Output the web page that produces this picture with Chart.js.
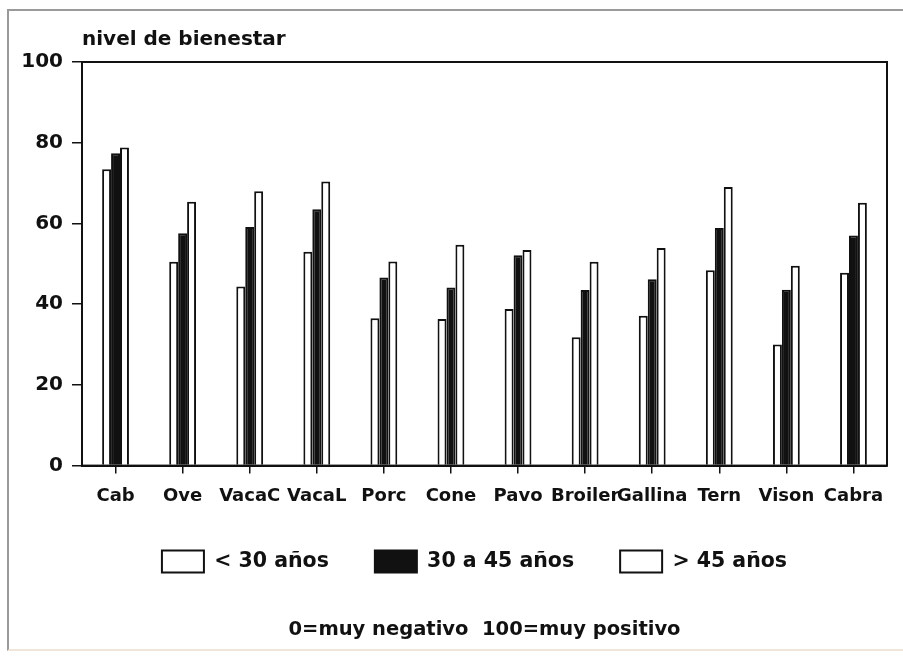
<!DOCTYPE html>
<html>
<head>
<meta charset="utf-8">
<script src="https://cdn.jsdelivr.net/npm/chart.js@4.4.1/dist/chart.umd.min.js"></script>
<style>
  html, body { margin: 0; padding: 0; background: #fff; }
  #wrap { position: relative; width: 903px; height: 656px; }
  #marco {
    position: absolute; left: 7px; top: 9px; right: -4px; bottom: 5px;
    border-top: 2px solid #9a9a9a; border-left: 2px solid #9a9a9a;
    border-bottom: 2px solid #efe6d9; pointer-events: none;
  }
</style>
</head>
<body>
<div id="wrap">
  <canvas id="grafico" width="903" height="656"></canvas>
  <div id="marco"></div>
</div>
<script>
// Especies evaluadas
const especies = ['Cab', 'Ove', 'VacaC', 'VacaL', 'Porc', 'Cone', 'Pavo', 'Broiler', 'Gallina', 'Tern', 'Vison', 'Cabra'];

// Nivel de bienestar por grupo de edad (0 = muy negativo, 100 = muy positivo)
const menos30 = [73.4, 50.5, 44.4, 53.0, 36.5, 36.3, 38.8, 31.8, 37.1, 48.4, 30.0, 47.8];
const de30a45 = [77.4, 57.6, 59.1, 63.5, 46.6, 44.1, 52.1, 43.5, 46.2, 58.9, 43.6, 57.0];
const mas45   = [78.8, 65.4, 68.0, 70.4, 50.6, 54.7, 53.4, 50.5, 53.9, 69.0, 49.5, 65.1];

const nombresSeries = ['< 30 años', '30 a 45 años', '> 45 años'];
const ticksY = [0, 20, 40, 60, 80, 100];

const fuente = 'DejaVu Sans';
const negro = '#111111';

// Marco del área del gráfico (arriba y derecha)
const marcoArea = {
    id: 'marcoArea',
    afterDatasetsDraw(chart) {
        const { ctx, chartArea } = chart;
        ctx.save();
        ctx.strokeStyle = negro;
        ctx.lineWidth = 2;
        ctx.strokeRect(chartArea.left, chartArea.top, chartArea.right - chartArea.left, chartArea.bottom - chartArea.top);
        ctx.restore();
    },
    afterLayout(chart) {
        // la leyenda del original queda un poco a la izquierda del centro
        chart.legend.left -= 10;
        chart.legend.right -= 10;
    }
};

const ctx = document.getElementById('grafico').getContext('2d');
new Chart(ctx, {
    type: 'bar',
    data: {
        labels: especies,
        datasets: [
            { label: nombresSeries[0], data: menos30, backgroundColor: '#ffffff' },
            { label: nombresSeries[1], data: de30a45, backgroundColor: negro },
            { label: nombresSeries[2], data: mas45, backgroundColor: '#ffffff' }
        ]
    },
    options: {
        responsive: false,
        animation: false,
        events: [],
        layout: { padding: { left: 0, right: 16, top: 0, bottom: 0 } },
        datasets: {
            bar: {
                borderColor: negro,
                borderWidth: 2,
                barPercentage: 1,
                categoryPercentage: 0.4
            }
        },
        plugins: {
            tooltip: { enabled: false },
            title: {
                display: true,
                text: 'nivel de bienestar',
                align: 'start',
                fullSize: false,
                color: negro,
                font: { family: fuente, size: 20, weight: 'bold' },
                padding: { top: 28, bottom: 10 }
            },
            legend: {
                position: 'bottom',
                fullSize: false,
                labels: {
                    color: negro,
                    font: { family: fuente, size: 20.5, weight: 'bold' },
                    boxWidth: 42,
                    boxHeight: 22,
                    padding: 46
                }
            },
            subtitle: {
                display: true,
                position: 'bottom',
                fullSize: false,
                text: '0=muy negativo  100=muy positivo',
                color: negro,
                font: { family: fuente, size: 19.5, weight: 'bold' },
                padding: { top: 36, bottom: 14 }
            }
        },
        scales: {
            x: {
                grid: { display: true, drawOnChartArea: false, offset: false, tickLength: 8, color: negro, lineWidth: 1.5 },
                border: { display: true, color: negro, width: 2 },
                ticks: {
                    color: negro,
                    font: { family: fuente, size: 18, weight: 'bold' },
                    autoSkip: false,
                    maxRotation: 0,
                    minRotation: 0,
                    padding: 12
                },
                afterFit(scale) { scale.height = 39; }
            },
            y: {
                min: 0,
                max: 100,
                afterBuildTicks(scale) { scale.ticks = ticksY.map(v => ({ value: v })); },
                grid: { display: true, drawOnChartArea: false, tickLength: 10, color: negro, lineWidth: 1.5 },
                border: { display: true, color: negro, width: 2 },
                ticks: {
                    color: negro,
                    font: { family: fuente, size: 20, weight: 'bold' },
                    padding: 9
                },
                afterFit(scale) { scale.width = 82; }
            }
        }
    },
    plugins: [marcoArea]
});
</script>
</body>
</html>
